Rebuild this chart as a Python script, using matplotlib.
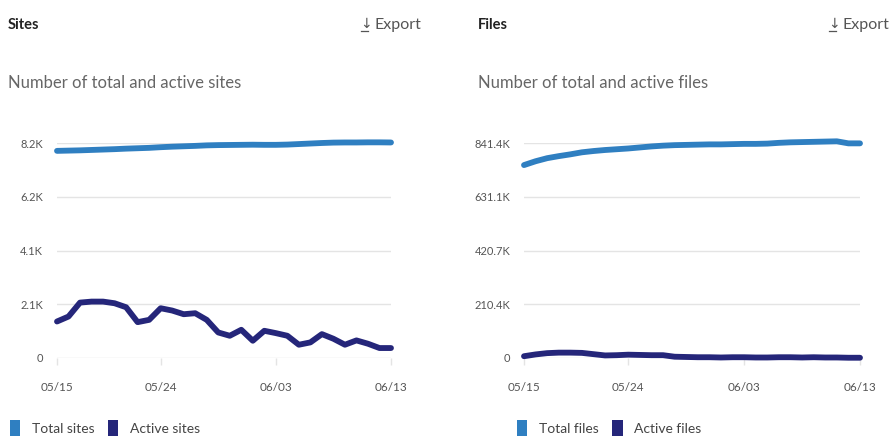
import matplotlib
matplotlib.use("Agg")
import matplotlib.pyplot as plt
from matplotlib.patches import Patch
from matplotlib.lines import Line2D
import numpy as np

plt.rcParams['font.family'] = ['Lato', 'DejaVu Sans']

days = list(range(30))
xtick_pos = [0, 9, 19, 29]
xtick_labels = ["05/15", "05/24", "06/03", "06/13"]

total_sites = [7900, 7910, 7920, 7935, 7950, 7965, 7985, 8000, 8015, 8040,
               8060, 8075, 8090, 8110, 8120, 8125, 8130, 8135, 8130, 8130,
               8140, 8160, 8180, 8200, 8215, 8220, 8220, 8225, 8225, 8220]
active_sites = [1392, 1582, 2113, 2151, 2151, 2088, 1936, 1367, 1455, 1898,
                1810, 1670, 1708, 1455, 974, 848, 1076, 658, 1038, 949,
                848, 506, 595, 911, 734, 506, 671, 544, 380, 380]
sites_ticks = [0, 2050, 4100, 6150, 8200]
sites_tick_labels = ["0", "2.1K", "4.1K", "6.2K", "8.2K"]

total_files = [755e3, 770e3, 782e3, 790e3, 797e3, 805e3, 810e3, 814e3, 817e3, 820e3,
               824e3, 828e3, 831e3, 833e3, 834e3, 835e3, 836e3, 836e3, 837e3, 838e3,
               838e3, 839e3, 842e3, 844e3, 845e3, 846e3, 847e3, 848e3, 840e3, 840e3]
active_files = [7e3, 14e3, 19e3, 21e3, 21e3, 20e3, 15e3, 10e3, 11e3, 13e3,
                12e3, 11e3, 11e3, 5e3, 4e3, 3e3, 3e3, 2e3, 3e3, 3e3,
                2e3, 2e3, 3e3, 3e3, 2e3, 3e3, 2e3, 2e3, 1e3, 1e3]
files_ticks = [0, 210350, 420700, 631050, 841400]
files_tick_labels = ["0", "210.4K", "420.7K", "631.1K", "841.4K"]

c_total = "#2f7fc1"
c_active = "#25267a"
grid_c = "#e4e4e4"
txt_c = "#555555"

W, H = 894, 437
fig = plt.figure(figsize=(W / 100, H / 100), dpi=100)

def fx(px):
    return px / W

def fy(py):
    return 1 - py / H

panels = [
    dict(x0=57, x1=391, total=total_sites, active=active_sites, ticks=sites_ticks,
         tlabels=sites_tick_labels, title="Sites", sub="Number of total and active sites",
         tx=8, ex=360, leg=["Total sites", "Active sites"], lx=10),
    dict(x0=524, x1=860, total=total_files, active=active_files, ticks=files_ticks,
         tlabels=files_tick_labels, title="Files", sub="Number of total and active files",
         tx=478, ex=828, leg=["Total files", "Active files"], lx=517),
]

for p in panels:
    ax = fig.add_axes([fx(p["x0"]), fy(358), fx(p["x1"] - p["x0"]), (358 - 143) / H])
    ax.plot(days, p["total"], color=c_total, lw=4.2, solid_capstyle="round",
            solid_joinstyle="round", clip_on=False, zorder=3)
    ax.plot(days, p["active"], color=c_active, lw=4.2, solid_capstyle="round",
            solid_joinstyle="round", clip_on=False, zorder=3)
    ax.set_xlim(0, 29)
    ax.set_ylim(0, p["ticks"][-1])
    ax.set_yticks(p["ticks"])
    ax.set_yticklabels(p["tlabels"])
    ax.set_xticks(xtick_pos)
    ax.set_xticklabels(xtick_labels)
    ax.grid(axis="y", color=grid_c, lw=1)
    ax.set_axisbelow(True)
    for s in ax.spines.values():
        s.set_visible(False)
    ax.tick_params(axis="y", length=0, pad=10, labelsize=8, labelcolor=txt_c)
    ax.tick_params(axis="x", length=5, width=1, color=grid_c, pad=12,
                   labelsize=8.5, labelcolor=txt_c)
    fig.text(fx(p["tx"]), fy(25), p["title"], fontsize=10.5, fontweight="bold",
             color="#222222", va="center", ha="left")
    fig.text(fx(p["tx"]), fy(83), p["sub"], fontsize=12, color="#666666",
             va="center", ha="left")
    fig.text(fx(p["ex"]), fy(24), "\u2193", fontsize=10, color=txt_c,
             va="center", ha="left", family=["DejaVu Sans"])
    fig.add_artist(Line2D([fx(p["ex"] + 0.5), fx(p["ex"] + 7.5)], [fy(31), fy(31)],
                          color=txt_c, lw=0.9))
    fig.text(fx(p["ex"] + 14), fy(25), "Export", fontsize=11.5, color=txt_c,
             va="center", ha="left")
    handles = [Patch(facecolor=c_total, edgecolor="none"),
               Patch(facecolor=c_active, edgecolor="none")]
    fig.legend(handles, p["leg"], loc="center left",
               bbox_to_anchor=(fx(p["lx"]), fy(428)), ncol=2, frameon=False,
               handlelength=0.75, handleheight=1.3, handletextpad=0.8,
               columnspacing=1.0, fontsize=10, labelcolor="#444444",
               borderaxespad=0, borderpad=0)

fig.savefig("out.png", dpi=100, facecolor="white")
